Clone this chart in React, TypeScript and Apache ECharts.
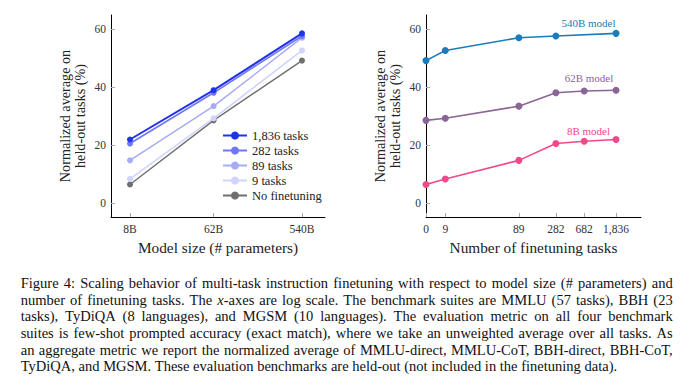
import React, { useEffect, useRef } from 'react';
import * as echarts from 'echarts';

// ---- Left chart data (model size, log-scale x) ----
const modelSizes = [8, 62, 540];
const modelSizeLabels = ['8B', '62B', '540B'];
const tasks1836 = [21.9, 38.9, 58.5];
const tasks282 = [20.5, 38.0, 57.6];
const tasks89 = [14.7, 33.4, 57.0];
const tasks9 = [8.3, 29.2, 52.6];
const noFinetuning = [6.4, 28.5, 49.1];

// ---- Right chart data (number of finetuning tasks, log-scale x) ----
const taskCounts = [0, 9, 89, 282, 682, 1836];
const taskCountLabels = ['0', '9', '89', '282', '682', '1,836'];
const model540B: (number | null)[] = [49.1, 52.6, 57.0, 57.6, null, 58.5];
const model62B = [28.5, 29.2, 33.4, 38.0, 38.6, 38.9];
const model8B = [6.4, 8.3, 14.7, 20.5, 21.3, 21.9];

const yTicks = [0, 20, 40, 60];

const captionLines = [
  'Figure 4: Scaling behavior of multi-task instruction finetuning with respect to model size (# parameters) and',
  'number of finetuning tasks. The x-axes are log scale. The benchmark suites are MMLU (57 tasks), BBH (23',
  'tasks), TyDiQA (8 languages), and MGSM (10 languages). The evaluation metric on all four benchmark',
  'suites is few-shot prompted accuracy (exact match), where we take an unweighted average over all tasks. As',
  'an aggregate metric we report the normalized average of MMLU-direct, MMLU-CoT, BBH-direct, BBH-CoT,',
  'TyDiQA, and MGSM. These evaluation benchmarks are held-out (not included in the finetuning data).',
];

const SERIF = 'Liberation Serif';

// log-scale transforms
const X1_MIN = 0.701;
const X1_MAX = 2.977;
const X2_MIN = 0.693; // position where "0 tasks" is drawn
const X2_MAX = 3.602;
const lx1 = (v: number) => Math.log10(v);
const lx2 = (v: number) => (v === 0 ? X2_MIN : Math.log10(v));

const nearestLabel = (v: number, vals: number[], labels: string[]) => {
  let best = 0;
  vals.forEach((x, i) => {
    if (Math.abs(x - v) < Math.abs(vals[best] - v)) best = i;
  });
  return labels[best];
};

type Seg = { t: string; italic?: boolean };

function buildCaption(): any[] {
  const canvas = document.createElement('canvas');
  const ctx = canvas.getContext('2d')!;
  const measure = (t: string, size: number, italic?: boolean) => {
    ctx.font = `${italic ? 'italic ' : ''}${size}px "${SERIF}"`;
    return ctx.measureText(t).width;
  };
  const left = 20.7;
  const right = 672.7;
  const lastWidth = 630;
  const last = captionLines[captionLines.length - 1];
  let fontSize = (100 * lastWidth) / measure(last, 100);
  // make sure every justified line keeps at least a normal word gap
  captionLines.forEach((line) => {
    const w = measure(line, 100);
    const fit = (100 * (right - left) * 0.985) / w;
    if (fit < fontSize) fontSize = fit;
  });
  const lineY0 = 283.3;
  const lineStep = 16.55;
  const els: any[] = [];
  captionLines.forEach((line, li) => {
    const words: Seg[][] = line.split(' ').map((w) =>
      w === 'x-axes' ? [{ t: 'x', italic: true }, { t: '-axes' }] : [{ t: w }]
    );
    const widths = words.map((segs) => segs.reduce((s, g) => s + measure(g.t, fontSize, g.italic), 0));
    const total = widths.reduce((a, b) => a + b, 0);
    const isLast = li === captionLines.length - 1;
    const space = measure(' ', fontSize);
    const gap = isLast ? space : (right - left - total) / (words.length - 1);
    let x = left;
    const y = lineY0 + li * lineStep;
    words.forEach((segs, wi) => {
      let sx = x;
      segs.forEach((g) => {
        const st: any = {
          text: g.t,
          fontFamily: SERIF,
          fontSize,
          fill: '#111',
          align: 'left',
          verticalAlign: 'middle',
        };
        if (g.italic) st.fontStyle = 'italic';
        els.push({ type: 'text', x: sx, y, silent: true, style: st });
        sx += measure(g.t, fontSize, g.italic);
      });
      x += widths[wi] + gap;
    });
  });
  return els;
}

const axisLineStyle = { show: true, onZero: false, lineStyle: { color: '#000', width: 1 } };

const yAxisCfg = (gridIndex: number) => ({
  type: 'value',
  gridIndex,
  min: -4.83,
  max: 64.83,
  name: 'Normalized average on\nheld-out tasks (%)',
  nameLocation: 'middle',
  nameRotate: 90,
  nameGap: 24,
  nameTextStyle: { fontFamily: SERIF, fontSize: 14.2, color: '#222', lineHeight: 15 },
  axisLine: axisLineStyle,
  axisTick: { show: true, inside: true, length: 4, lineStyle: { color: '#aaa' }, customValues: yTicks },
  axisLabel: { customValues: yTicks, margin: 5, fontFamily: SERIF, fontSize: 11.5, color: '#333' },
  splitLine: { show: false },
});

export default function App() {
  const ref = useRef<HTMLDivElement>(null);
  useEffect(() => {
    if (!ref.current) return;
    const chart = echarts.init(ref.current, undefined, { renderer: 'svg' });
    const x1Vals = modelSizes.map(lx1);
    const x2Vals = taskCounts.map(lx2);
    const leftLine = (name: string, vals: number[], color: string, width: number, z: number) => ({
      type: 'line',
      name,
      xAxisIndex: 0,
      yAxisIndex: 0,
      data: modelSizes.map((s, i) => [lx1(s), vals[i]]),
      symbol: 'circle',
      symbolSize: 6,
      z,
      lineStyle: { color, width },
      itemStyle: { color },
    });
    const rightLine = (name: string, vals: (number | null)[], color: string) => ({
      type: 'line',
      name,
      xAxisIndex: 1,
      yAxisIndex: 1,
      data: taskCounts
        .map((t, i) => [lx2(t), vals[i]])
        .filter((d) => d[1] !== null),
      symbol: 'circle',
      symbolSize: 7,
      lineStyle: { color, width: 1.6 },
      itemStyle: { color },
    });
    const xLabelStyle = { fontFamily: SERIF, fontSize: 11.5, color: '#333', margin: 6 };
    const xNameStyle = { fontFamily: SERIF, fontSize: 15.3, color: '#222' };
    const option: any = {
      animation: false,
      grid: [
        { left: 111, top: 15, width: 214, height: 202 },
        { left: 426, top: 15, width: 215, height: 202 },
      ],
      xAxis: [
        {
          type: 'value',
          gridIndex: 0,
          min: X1_MIN,
          max: X1_MAX,
          name: 'Model size (# parameters)',
          nameLocation: 'middle',
          nameGap: 23,
          nameTextStyle: xNameStyle,
          axisLine: axisLineStyle,
          axisTick: { show: true, inside: true, length: 4, lineStyle: { color: '#aaa' }, customValues: x1Vals },
          axisLabel: {
            ...xLabelStyle,
            customValues: x1Vals,
            formatter: (v: number) => nearestLabel(v, x1Vals, modelSizeLabels),
          },
          splitLine: { show: false },
        },
        {
          type: 'value',
          gridIndex: 1,
          min: X2_MIN,
          max: X2_MAX,
          name: 'Number of finetuning tasks',
          nameLocation: 'middle',
          nameGap: 23,
          nameTextStyle: xNameStyle,
          axisLine: axisLineStyle,
          axisTick: { show: true, inside: true, length: 4, lineStyle: { color: '#aaa' }, customValues: x2Vals },
          axisLabel: {
            ...xLabelStyle,
            customValues: x2Vals,
            formatter: (v: number) => nearestLabel(v, x2Vals, taskCountLabels),
          },
          splitLine: { show: false },
        },
      ],
      yAxis: [yAxisCfg(0), yAxisCfg(1)],
      legend: {
        orient: 'vertical',
        left: 222,
        top: 129,
        padding: 0,
        itemWidth: 24,
        itemHeight: 10,
        itemGap: 2,
        textStyle: { fontFamily: SERIF, fontSize: 12.5, color: '#222', lineHeight: 12 },
        data: ['1,836 tasks', '282 tasks', '89 tasks', '9 tasks', 'No finetuning'],
      },
      series: [
        leftLine('No finetuning', noFinetuning, '#6f6f6f', 1.4, 2),
        leftLine('9 tasks', tasks9, '#d0d3fa', 1.5, 3),
        leftLine('89 tasks', tasks89, '#a7abf6', 1.5, 4),
        leftLine('282 tasks', tasks282, '#6f78f1', 1.6, 5),
        leftLine('1,836 tasks', tasks1836, '#1f32ee', 2, 6),
        rightLine('540B model', model540B, '#1a7dba'),
        rightLine('62B model', model62B, '#8a6596'),
        rightLine('8B model', model8B, '#f2478b'),
      ],
      graphic: [
        {
          type: 'text', x: 588.5, y: 23.3, silent: true,
          style: { text: '540B model', fontFamily: SERIF, fontSize: 11, fill: '#1a7dba', align: 'center', verticalAlign: 'middle' },
        },
        {
          type: 'text', x: 589, y: 78.3, silent: true,
          style: { text: '62B model', fontFamily: SERIF, fontSize: 11, fill: '#8a6596', align: 'center', verticalAlign: 'middle' },
        },
        {
          type: 'text', x: 588.5, y: 130.7, silent: true,
          style: { text: '8B model', fontFamily: SERIF, fontSize: 11, fill: '#f2478b', align: 'center', verticalAlign: 'middle' },
        },
        ...buildCaption(),
      ],
    };
    chart.setOption(option);
    return () => chart.dispose();
  }, []);
  return (
    <div
      ref={ref}
      style={{ position: 'absolute', left: 0, top: 0, width: 692, height: 387, background: '#fff' }}
    />
  );
}
